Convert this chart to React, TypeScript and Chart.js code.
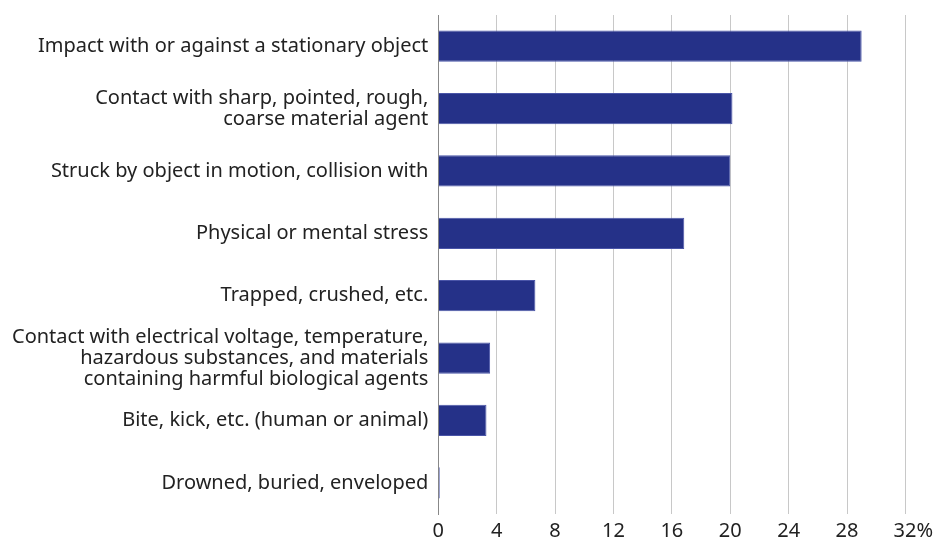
import React, { useEffect, useRef } from "react";
import { Chart, registerables } from "chart.js";

Chart.register(...registerables);

const categories: (string | string[])[] = [
  "Impact with or against a stationary object",
  ["Contact with sharp, pointed, rough,", "coarse material agent"],
  "Struck by object in motion, collision with",
  "Physical or mental stress",
  "Trapped, crushed, etc.",
  [
    "Contact with electrical voltage, temperature,",
    "hazardous substances, and materials",
    "containing harmful biological agents",
  ],
  "Bite, kick, etc. (human or animal)",
  "Drowned, buried, enveloped",
];

const values: number[] = [29.0, 20.15, 20.0, 16.85, 6.65, 3.55, 3.3, 0.1];

const xTicks: number[] = [0, 4, 8, 12, 16, 20, 24, 28, 32];

const FONT = "'Noto Sans', 'Open Sans', sans-serif";

export default function App() {
  const ref = useRef<HTMLCanvasElement | null>(null);

  useEffect(() => {
    document.body.style.margin = "0";
    if (!ref.current) return;
    const chart = new Chart(ref.current, {
      type: "bar",
      data: {
        labels: categories,
        datasets: [
          {
            data: values,
            backgroundColor: "#253188",
            borderColor: "#4a55a8",
            borderWidth: 1,
            barPercentage: 0.5,
            categoryPercentage: 1,
          },
        ],
      },
      options: {
        indexAxis: "y",
        animation: false,
        responsive: false,
        devicePixelRatio: 1,
        layout: { padding: { top: 15, left: 2, right: 0, bottom: 0 } },
        plugins: { legend: { display: false }, tooltip: { enabled: false } },
        scales: {
          x: {
            min: 0,
            max: 32,
            afterBuildTicks: (axis: any) => {
              axis.ticks = xTicks.map((v) => ({ value: v }));
            },
            afterFit: (axis: any) => {
              axis.height = 27;
            },
            grid: {
              color: "#c8c8c8",
              lineWidth: 1,
              drawTicks: false,
            },
            border: { display: false },
            ticks: {
              padding: 5,
              color: "#222",
              font: { family: FONT, size: 20 },
              maxRotation: 0,
              autoSkip: false,
              callback: (v: any) => (Number(v) === 32 ? "   32%" : String(v)),
            },
          },
          y: {
            afterFit: (axis: any) => {
              axis.paddingTop = 0;
              axis.paddingBottom = 0;
            },
            grid: { display: false, drawTicks: false },
            border: { display: true, color: "#888", width: 1 },
            ticks: {
              padding: 10,
              autoSkip: false,
              color: "#222",
              font: { family: FONT, size: 20, lineHeight: 1.05 },
            },
          },
        },
      },
    });
    return () => chart.destroy();
  }, []);

  return (
    <div style={{ position: "absolute", left: 0, top: 0, width: 938, height: 541 }}>
      <canvas ref={ref} width={938} height={541} style={{ display: "block" }} />
    </div>
  );
}
